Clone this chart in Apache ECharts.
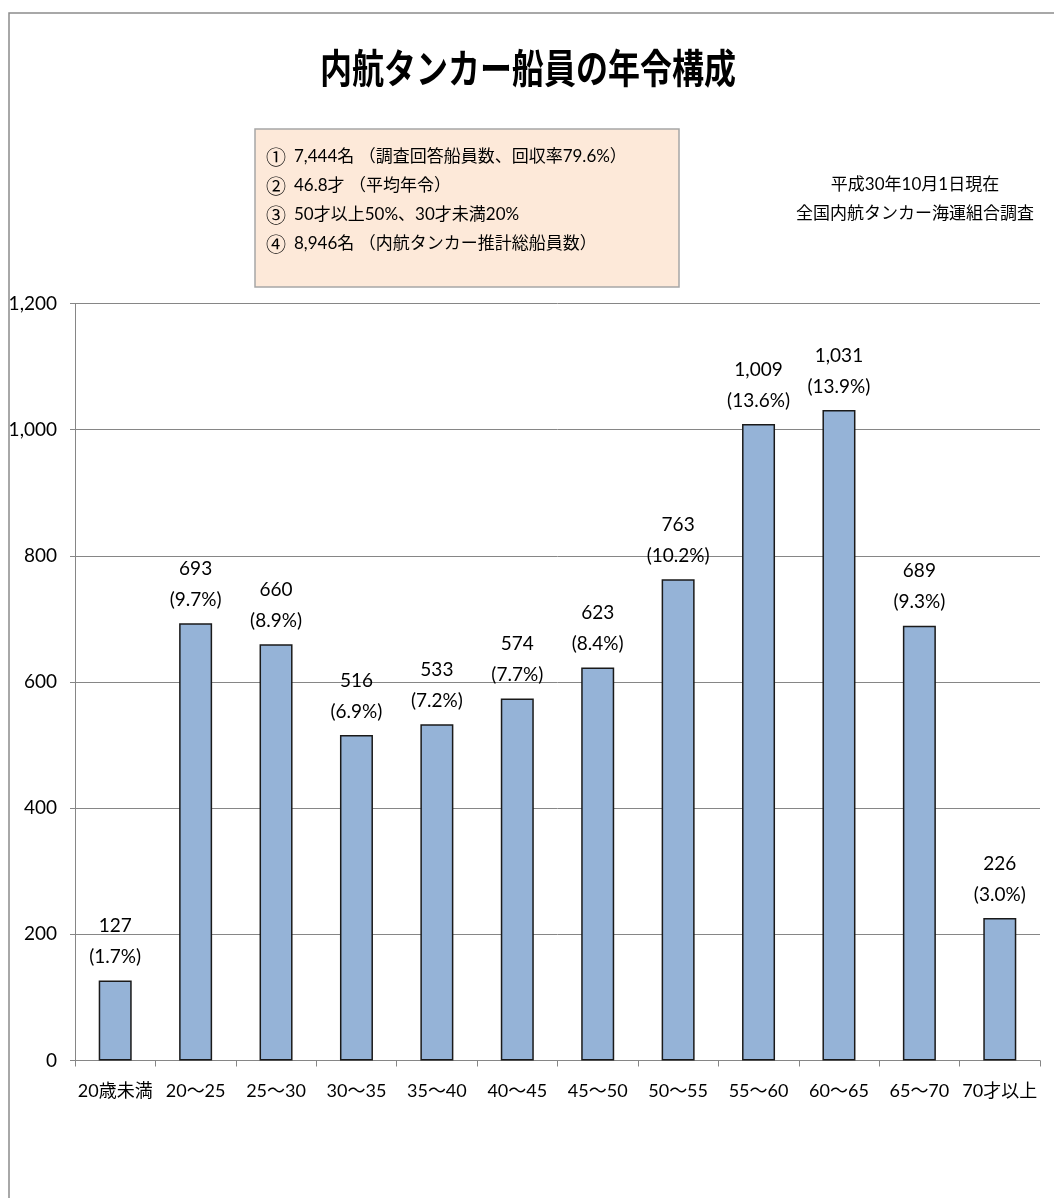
<!DOCTYPE html>
<html>
<head>
<meta charset="utf-8">
<script src="https://cdn.jsdelivr.net/npm/echarts@6/dist/echarts.min.js"></script>
<style>
  html, body { margin: 0; padding: 0; background: #fff; }
  #chart { width: 1054px; height: 1198px; }
</style>
</head>
<body>
<div id="chart"></div>
<script>
// Age groups of tanker crews
const categories = ['20歳未満', '20～25', '25～30', '30～35', '35～40', '40～45', '45～50', '50～55', '55～60', '60～65', '65～70', '70才以上'];
// Number of crew members per age group
const crewCounts = [127, 693, 660, 516, 533, 574, 623, 763, 1009, 1031, 689, 226];
// Share of each group (%)
const crewShares = ['1.7', '9.7', '8.9', '6.9', '7.2', '7.7', '8.4', '10.2', '13.6', '13.9', '9.3', '3.0'];
// Value axis ticks
const yMin = 0, yMax = 1200, yStep = 200;

const titleText = '内航タンカー船員の年令構成';
const summaryMarks = ['①', '②', '③', '④'];
const summaryLines = [
  '7,444名 （調査回答船員数、回収率79.6%）',
  '46.8才 （平均年令）',
  '50才以上50%、30才未満20%',
  '8,946名 （内航タンカー推計総船員数）'
];
const sourceLines = ['平成30年10月1日現在', '全国内航タンカー海運組合調査'];

const FONT = "Lato, 'Noto Sans CJK JP', sans-serif";
const fmt = v => v.toLocaleString('en-US');

const chart = echarts.init(document.getElementById('chart'), null, { renderer: 'canvas' });

const graphics = [
  // outer frame
  { type: 'rect', silent: true, z: 0,
    shape: { x: 9, y: 13, width: 1100, height: 1300 },
    style: { fill: 'none', stroke: '#8c8c8c', lineWidth: 1.5 } },
  // title
  { type: 'text', silent: true, z: 10,
    x: 528, y: 68, scaleY: 1.25,
    style: { text: titleText, font: "bold 32px 'Noto Sans CJK JP', sans-serif",
             fill: '#000', align: 'center', verticalAlign: 'middle' } },
  // summary box
  { type: 'rect', silent: true, z: 5,
    shape: { x: 255, y: 129, width: 424, height: 158 },
    style: { fill: '#FDE9D9', stroke: '#a6a6a6', lineWidth: 1.5 } }
];
summaryLines.forEach((t, i) => {
  graphics.push({ type: 'text', silent: true, z: 10,
    x: 266, y: 157 + i * 29,
    style: { text: summaryMarks[i], font: "20px 'Noto Sans CJK JP', sans-serif", fill: '#000',
             align: 'left', verticalAlign: 'middle' } });
  graphics.push({ type: 'text', silent: true, z: 10,
    x: 294, y: 157 + i * 29,
    style: { text: t, font: "17px " + FONT, fill: '#000', align: 'left', verticalAlign: 'middle' } });
});
sourceLines.forEach((t, i) => {
  graphics.push({ type: 'text', silent: true, z: 10,
    x: 915, y: 185 + i * 29,
    style: { text: t, font: "17px " + FONT, fill: '#000', align: 'center', verticalAlign: 'middle' } });
});

chart.setOption({
  animation: false,
  backgroundColor: '#fff',
  textStyle: { fontFamily: FONT },
  grid: { left: 75, right: 14, top: 303.5, bottom: 137.5, containLabel: false },
  xAxis: {
    type: 'category',
    data: categories,
    axisLine: { lineStyle: { color: '#868686', width: 1 } },
    axisTick: { show: true, alignWithLabel: false, length: 6, lineStyle: { color: '#868686' } },
    axisLabel: { color: '#000', fontSize: 18, margin: 22, interval: 0, fontFamily: FONT }
  },
  yAxis: {
    type: 'value',
    min: yMin, max: yMax, interval: yStep,
    axisLine: { show: true, lineStyle: { color: '#868686', width: 1 } },
    axisTick: { show: true, length: 5, lineStyle: { color: '#868686' } },
    splitLine: { lineStyle: { color: '#868686', width: 1 } },
    axisLabel: { color: '#000', fontSize: 19, margin: 18, fontFamily: FONT, formatter: v => fmt(v) }
  },
  series: [{
    type: 'bar',
    data: crewCounts,
    barWidth: 33,
    itemStyle: { color: '#95B3D7', borderColor: '#1a1a1a', borderWidth: 1.5 },
    label: {
      show: true, position: 'top', distance: 8,
      color: '#000', fontSize: 19, lineHeight: 31, fontFamily: FONT, align: 'center',
      formatter: p => fmt(p.value) + '\n(' + crewShares[p.dataIndex] + '%)'
    }
  }],
  graphic: graphics
});
</script>
</body>
</html>
